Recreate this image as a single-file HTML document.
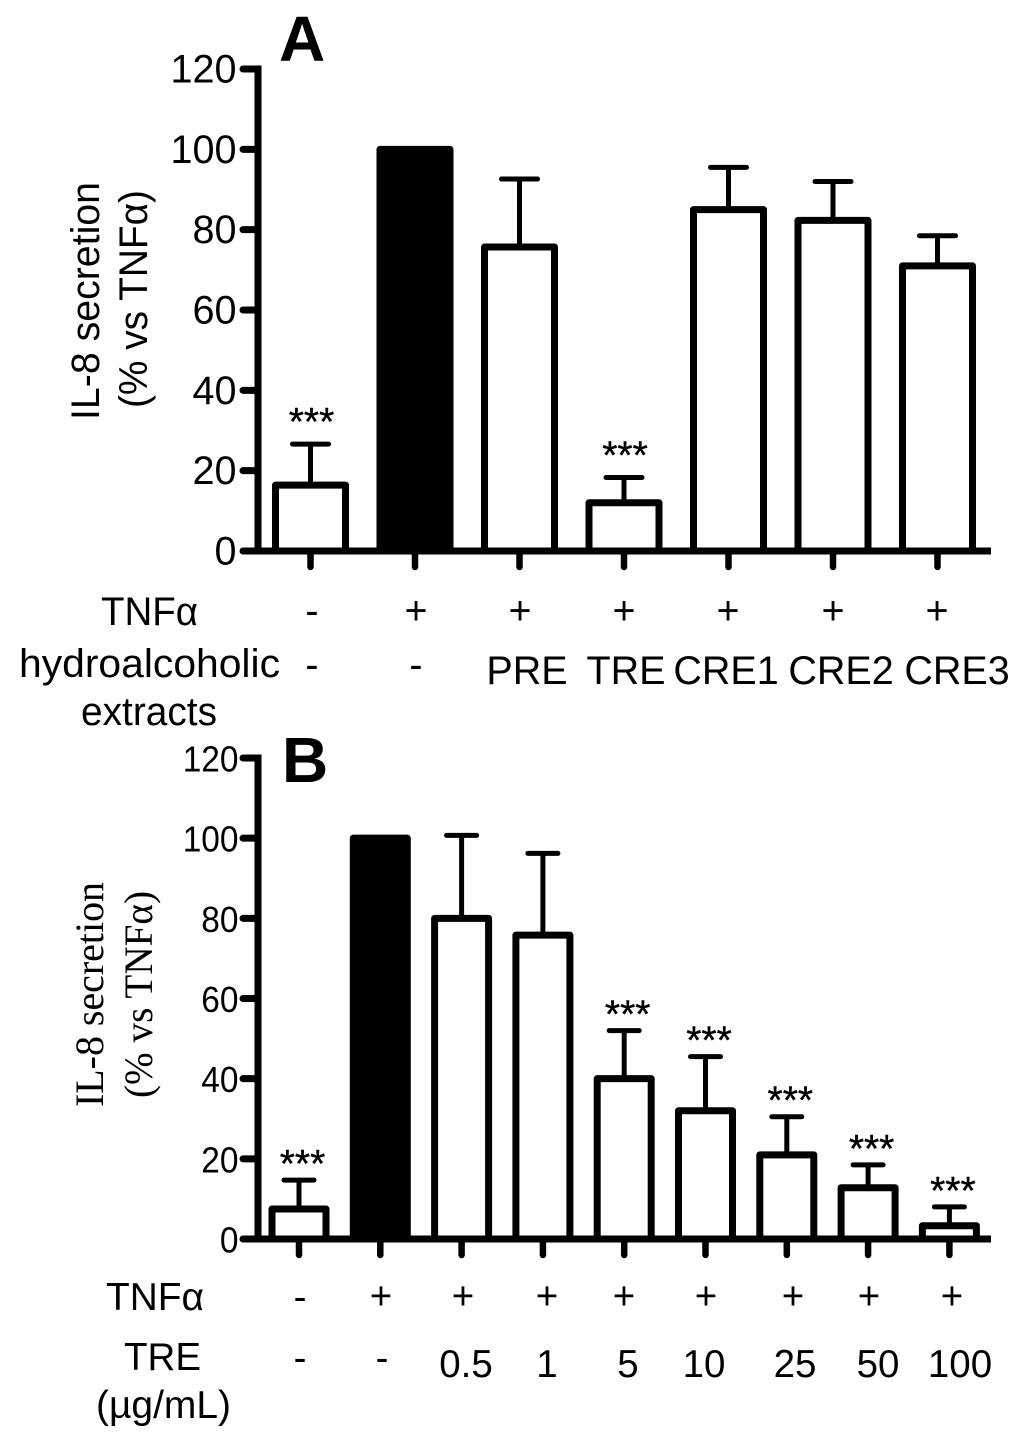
<!DOCTYPE html>
<html lang="en">
<head>
<meta charset="utf-8">
<title>IL-8 secretion bar charts</title>
<style>
html,body{margin:0;padding:0;background:#fff}
svg{display:block}
text{font-family:"Liberation Sans",Arial,sans-serif;fill:#000}
.serif{font-family:"Liberation Serif","Times New Roman",serif}
.la{font-size:39.5px}
.lb{font-size:38.5px}
.ce{text-anchor:middle}
</style>
</head>
<body>
<svg id="fig" xmlns="http://www.w3.org/2000/svg" width="1024" height="1439" viewBox="0 0 1024 1439">
  <g id="panel-a"></g>
  <g id="panel-b"></g>

  <text x="279" y="61" font-size="64" font-weight="bold">A</text>
  <text class="la" textLength="238" lengthAdjust="spacingAndGlyphs" transform="translate(99 420) rotate(-90)">IL-8 secretion</text>
  <text class="la" textLength="218" lengthAdjust="spacingAndGlyphs" transform="translate(147 408) rotate(-90)">(% vs TNFα)</text>

  <g>
    <text class="la" x="101" y="625" textLength="97" lengthAdjust="spacingAndGlyphs">TNFα</text>
    <text class="la ce" x="312" y="624">-</text>
    <text class="la ce" x="416" y="624">+</text>
    <text class="la ce" x="520" y="624">+</text>
    <text class="la ce" x="624" y="624">+</text>
    <text class="la ce" x="728" y="624">+</text>
    <text class="la ce" x="833" y="624">+</text>
    <text class="la ce" x="937" y="624">+</text>
  </g>
  <g>
    <text class="la" x="19" y="677" textLength="261" lengthAdjust="spacingAndGlyphs">hydroalcoholic</text>
    <text class="la" x="81" y="725" textLength="136" lengthAdjust="spacingAndGlyphs">extracts</text>
    <text class="la ce" x="312" y="678">-</text>
    <text class="la ce" x="416" y="678">-</text>
    <text class="la ce" x="527" y="684">PRE</text>
    <text class="la ce" x="626" y="684">TRE</text>
    <text class="la ce" x="726" y="684">CRE1</text>
    <text class="la ce" x="841" y="684">CRE2</text>
    <text class="la ce" x="957" y="684">CRE3</text>
  </g>

  <text x="282" y="782" font-size="64" font-weight="bold">B</text>
  <text class="serif" font-size="40" textLength="225" lengthAdjust="spacingAndGlyphs" transform="translate(103 1107) rotate(-90)">IL-8 secretion</text>
  <text class="serif" font-size="40" textLength="207" lengthAdjust="spacingAndGlyphs" transform="translate(152 1098) rotate(-90)">(% vs TNFα)</text>

  <g>
    <text class="lb" x="106" y="1310" textLength="98" lengthAdjust="spacingAndGlyphs">TNFα</text>
    <text class="lb ce" x="300" y="1310">-</text>
    <text class="lb ce" x="381" y="1309">+</text>
    <text class="lb ce" x="463" y="1309">+</text>
    <text class="lb ce" x="547" y="1309">+</text>
    <text class="lb ce" x="624" y="1309">+</text>
    <text class="lb ce" x="706" y="1309">+</text>
    <text class="lb ce" x="793" y="1309">+</text>
    <text class="lb ce" x="869" y="1309">+</text>
    <text class="lb ce" x="952" y="1309">+</text>
  </g>
  <g>
    <text class="lb" x="124" y="1370">TRE</text>
    <text class="lb" x="96" y="1418" textLength="135" lengthAdjust="spacingAndGlyphs">(µg/mL)</text>
    <text class="lb ce" x="300" y="1371">-</text>
    <text class="lb ce" x="382" y="1371">-</text>
    <text class="lb ce" x="466" y="1377">0.5</text>
    <text class="lb ce" x="547" y="1377">1</text>
    <text class="lb ce" x="628" y="1377">5</text>
    <text class="lb ce" x="704" y="1377">10</text>
    <text class="lb ce" x="795" y="1377">25</text>
    <text class="lb ce" x="878" y="1377">50</text>
    <text class="lb ce" x="960" y="1377">100</text>
  </g>
</svg>

<script>
var yTickLabels = [0, 20, 40, 60, 80, 100, 120];

var categoriesA = ["control", "tnf", "pre", "tre", "cre1", "cre2", "cre3"];
var valuesA = [16.4, 100, 75.7, 12, 85, 82.3, 71];
var errorsA = [10.2, 0, 16.9, 6.3, 10.5, 9.7, 7.5];
var filledA = [false, true, false, false, false, false, false];
var significantA = [true, false, false, true, false, false, false];

var categoriesB = ["control", "tnf", "0.5", "1", "5", "10", "25", "50", "100"];
var valuesB = [7.5, 100, 80, 75.8, 40, 32, 21, 12.8, 3.3];
var errorsB = [7.2, 0, 20.7, 20.4, 12, 13.5, 9.5, 5.7, 4.7];
var filledB = [false, true, false, false, false, false, false, false, false];
var significantB = [true, false, false, false, true, true, true, true, true];

var SVGNS = "http://www.w3.org/2000/svg";

function make(parent, tag, attrs) {
  var el = document.createElementNS(SVGNS, tag);
  for (var k in attrs) { el.setAttribute(k, attrs[k]); }
  parent.appendChild(el);
  return el;
}

function drawPanel(root, prefix, o, categories, values, errors, filled, significant) {
  function yScale(v) { return o.y0 + (o.y120 - o.y0) * v / 120; }
  function xScale(i) { return o.x0 + o.step * i; }

  categories.forEach(function (cat, i) {
    var cx = xScale(i);
    var top = yScale(values[i]);

    if (errors[i] > 0) {
      var capY = yScale(values[i] + errors[i]);
      var stem = make(root, "line", { x1: cx, x2: cx, y1: top, y2: capY, stroke: "#000", "stroke-width": o.err });
      
      
      var cap = make(root, "line", { x1: cx - o.cap, x2: cx + o.cap, y1: capY, y2: capY, stroke: "#000", "stroke-width": o.err, "stroke-linecap": "round" });
      
      
      if (significant[i]) {
        var star = make(root, "text", { x: cx + o.starDx, y: capY + o.starDy, "text-anchor": "middle", "font-size": 39, stroke: "#000", "stroke-width": 0.4 });
        star.textContent = "***";
        
        
      }
    }

    var bar = make(root, "rect", {
      x: cx - o.barW / 2, y: top, width: o.barW, height: o.y0 - top,
      fill: filled[i] ? "#000" : "#fff", stroke: "#000",
      "stroke-width": o.stroke, "stroke-linejoin": "round"
    });
    
    

    var xt = make(root, "line", { x1: cx, x2: cx, y1: o.y0, y2: o.y0 + 16, stroke: "#000", "stroke-width": 6.5, "stroke-linecap": "round" });
    
    
  });

  var yAxis = make(root, "line", { x1: o.axisX, x2: o.axisX, y1: yScale(120) - 3.5, y2: o.y0, stroke: "#000", "stroke-width": 7 });
  
  

  var xAxis = make(root, "line", { x1: o.axisX - 3.5, x2: o.xEnd, y1: o.y0, y2: o.y0, stroke: "#000", "stroke-width": 7 });
  
  

  yTickLabels.forEach(function (t) {
    var y = yScale(t);
    var tick = make(root, "line", { x1: o.axisX - 15, x2: o.axisX, y1: y, y2: y, stroke: "#000", "stroke-width": 7, "stroke-linecap": "round" });
    
    
    var str = String(t);
    var label = make(root, "text", { x: o.labelX, y: y + 13.5, "text-anchor": "end", "font-size": o.tickFont, textLength: str.length * o.digitW, lengthAdjust: "spacingAndGlyphs" });
    label.textContent = str;
    
    
  });
}

drawPanel(document.getElementById("panel-a"), "panel-a",
  { y0: 551, y120: 69, x0: 310.5, step: 104.5, barW: 70, stroke: 7, err: 5, cap: 18, axisX: 258, xEnd: 991, labelX: 236.5, tickFont: 39.5, digitW: 22, starDx: 1, starDy: -9 },
  categoriesA, valuesA, errorsA, filledA, significantA);

drawPanel(document.getElementById("panel-b"), "panel-b",
  { y0: 1239, y120: 758, x0: 299, step: 81.3, barW: 54, stroke: 7, err: 5, cap: 15, axisX: 258, xEnd: 991, labelX: 238.5, tickFont: 36, digitW: 18.6, starDx: 3.5, starDy: -3 },
  categoriesB, valuesB, errorsB, filledB, significantB);
</script>
</body>
</html>
